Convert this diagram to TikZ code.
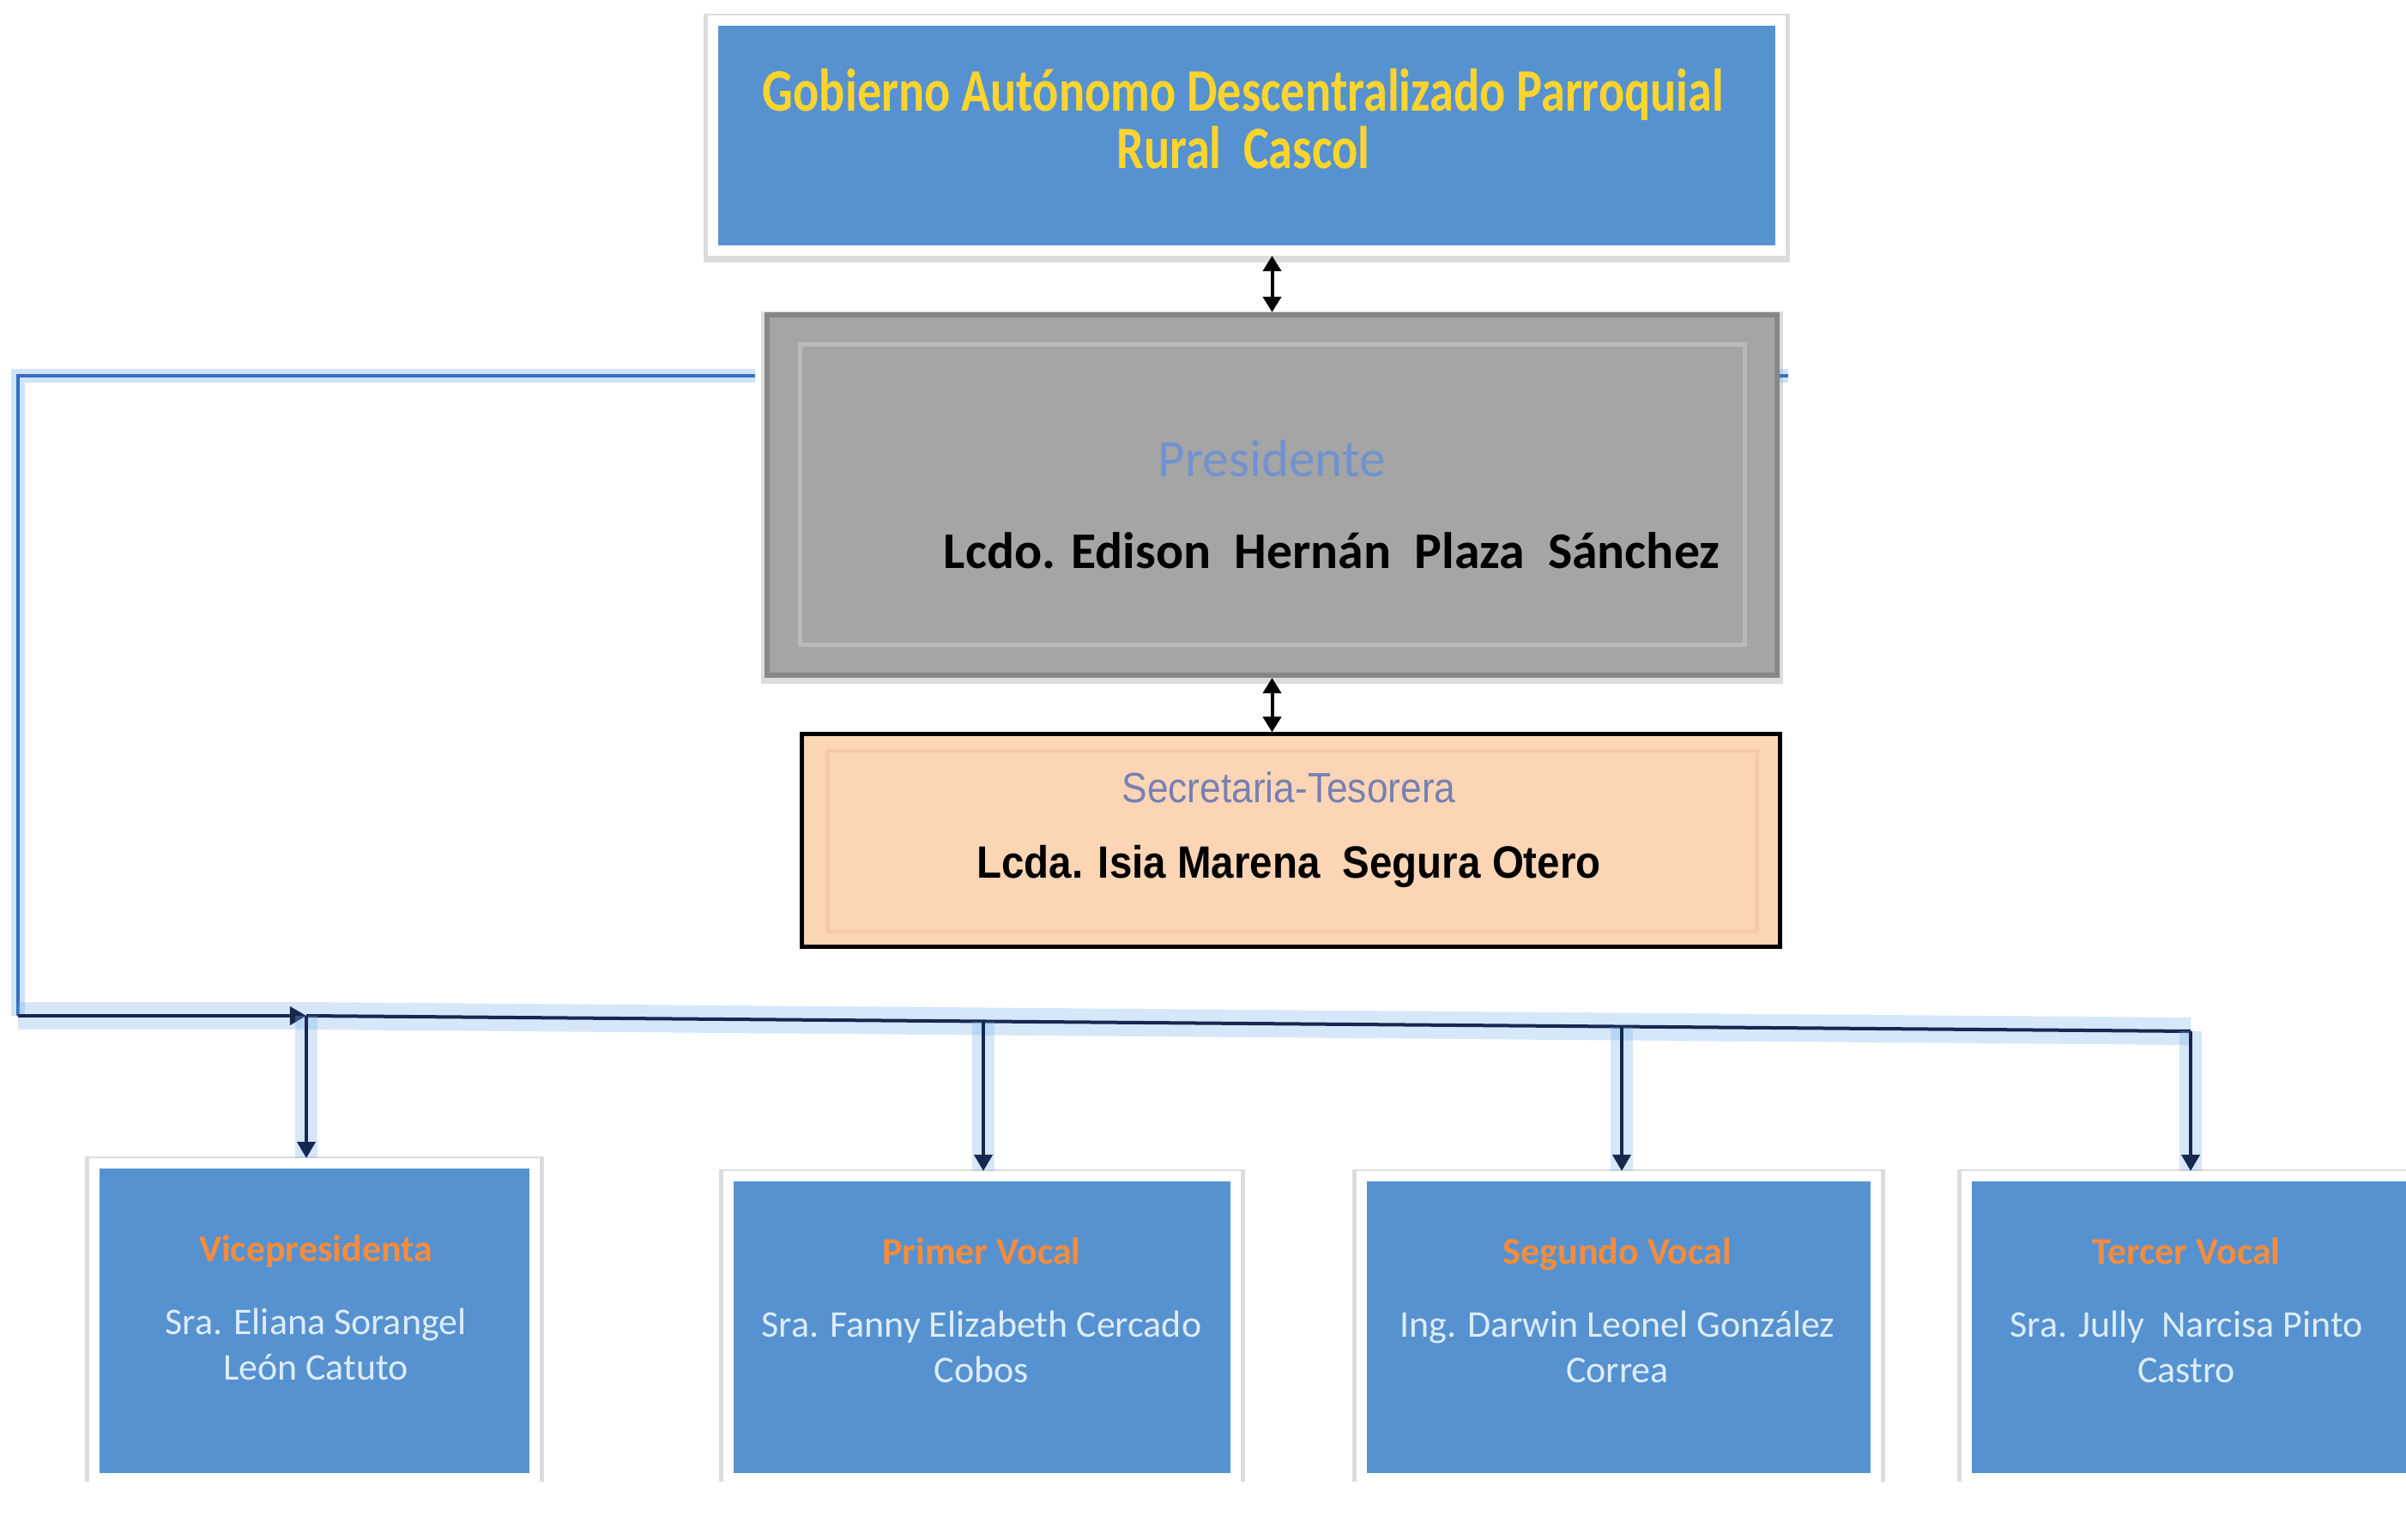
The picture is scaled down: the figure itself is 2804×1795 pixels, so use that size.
\documentclass[tikz,border=0pt]{standalone}
\usepackage{fontspec}
\setmainfont{Carlito}
\newfontfamily\headfont[FakeStretch=0.8]{Carlito}
\newfontfamily\arialfont[FakeStretch=0.9]{Liberation Sans}
\usepackage{tikz}
\usetikzlibrary{calc,positioning,arrows.meta,shadows}

\definecolor{gadblue}{RGB}{86,146,208}
\definecolor{gadyellow}{RGB}{255,212,45}
\definecolor{roleorange}{RGB}{247,140,60}
\definecolor{namelight}{RGB}{222,236,250}
\definecolor{presgray}{RGB}{165,165,165}
\definecolor{presedge}{RGB}{135,135,135}
\definecolor{presbevel}{RGB}{186,186,186}
\definecolor{presblue}{RGB}{112,146,208}
\definecolor{secpeach}{RGB}{252,213,181}
\definecolor{secbevel}{RGB}{243,203,172}
\definecolor{secgray}{RGB}{118,128,178}
\definecolor{linkblue}{RGB}{52,112,190}
\definecolor{linknavy}{RGB}{22,40,80}
\definecolor{glowblue}{RGB}{120,175,235}

\tikzset{
	bluebox/.style={rectangle, inner sep=0pt, fill=gadblue, draw=white, line width=1.2mm,
		general shadow={draw=black!30, fill=black!30, line width=2.1mm, shadow yshift=-0.3mm, opacity=0.45}},
	presbox/.style={rectangle, inner sep=0pt, fill=presgray, draw=presedge, line width=0.6mm,
		general shadow={draw=black!30, fill=black!30, line width=1.4mm, shadow yshift=-0.3mm, opacity=0.45}},
	secbox/.style={rectangle, inner sep=0pt, fill=secpeach, draw=black, line width=0.5mm},
	bevel/.style={rectangle, inner sep=0pt, line width=0.5mm},
	headtext/.style={text=gadyellow, align=center, anchor=base,
		font=\headfont\bfseries\fontsize{20}{19.3}\selectfont},
	roletext/.style={text=roleorange, anchor=base, font=\bfseries\fontsize{12.5}{15}\selectfont},
	nametext/.style={text=namelight, align=center, anchor=base, font=\fontsize{12.5}{15}\selectfont},
	tip/.style={-{Triangle[length=1.9mm, width=2.1mm]}},
	linkleft/.style={draw=linkblue, line width=0.4mm,
		preaction={-, draw=glowblue, line width=1.6mm, opacity=0.35}},
	linkbus/.style={draw=linknavy, line width=0.4mm,
		preaction={-, draw=glowblue, line width=3.2mm, opacity=0.3}},
	linkdown/.style={draw=linknavy, line width=0.4mm, tip,
		preaction={-, draw=glowblue, line width=2.6mm, opacity=0.3}},
	dblarrow/.style={draw=black, line width=0.4mm,
		{Triangle[length=1.8mm, width=2.1mm]}-{Triangle[length=1.8mm, width=2.1mm]}}
}

\begin{document}
\begin{tikzpicture}[x=0.01cm, y=-0.01cm]
	\useasboundingbox (0,0) rectangle (2804,1795);

	% upper boxes
	\node[bluebox, minimum width=12.44cm, minimum height=2.68cm] (gad) at (1453,158) {};
	\node[presbox, minimum width=11.77cm, minimum height=4.20cm] (pres) at (1482.5,577) {};
	\node[bevel, draw=presbevel, minimum width=11.0cm, minimum height=3.49cm] (presin) at (1483,576.5) {};
	\node[secbox, minimum width=11.39cm, minimum height=2.47cm] (sec) at (1504.5,979.5) {};
	\node[bevel, draw=secbevel, minimum width=10.82cm, minimum height=2.09cm] (secin) at (1506,980.5) {};

	\node[headtext] (gadtxt) at (1449,197) {Gobierno Autónomo Descentralizado Parroquial\\Rural\ \ Cascol};
	\node[anchor=base, text=presblue, font=\fontsize{17.4}{20}\selectfont] (prestxt) at (1482,556) {Presidente};
	\node[anchor=base, text=black, font=\bfseries\fontsize{17}{20}\selectfont] (presname) at (1552,663)
		{Lcdo. Edison\ \ Hernán\ \ Plaza\ \ Sánchez};
	\node[anchor=base, text=secgray, font=\arialfont\fontsize{14}{16}\selectfont] (sectxt) at (1502,935) {Secretaria-Tesorera};
	\node[anchor=base, text=black, font=\arialfont\bfseries\fontsize{15}{17}\selectfont] (secname) at (1502,1023)
		{Lcda. Isia Marena\ \ Segura Otero};

	% lower boxes (cut at the bottom)
	\begin{scope}
		\clip (0,0) rectangle (2804,1726);
		\node[bluebox, minimum width=5.13cm, minimum height=3.67cm] (vice) at (366.5,1539.5) {};
		\node[bluebox, minimum width=5.91cm, minimum height=3.52cm] (vocal1) at (1144.5,1547) {};
		\node[bluebox, minimum width=5.99cm, minimum height=3.52cm] (vocal2) at (1886.5,1547) {};
		\node[bluebox, minimum width=5.32cm, minimum height=3.52cm] (vocal3) at (2558,1547) {};
	\end{scope}

	\node[roletext] (vicetxt) at (368,1470) {Vicepresidenta};
	\node[nametext] (vicename) at (368,1608) {Sra. Eliana Sorangel\\León Catuto};
	\node[roletext] (vocal1txt) at (1144,1473) {Primer Vocal};
	\node[nametext] (vocal1name) at (1144,1611) {Sra. Fanny Elizabeth Cercado\\Cobos};
	\node[roletext] (vocal2txt) at (1885,1473) {Segundo Vocal};
	\node[nametext] (vocal2name) at (1885,1611) {Ing. Darwin Leonel González\\Correa};
	\node[roletext] (vocal3txt) at (2548,1473) {Tercer Vocal};
	\node[nametext] (vocal3name) at (2548,1611) {Sra. Jully\ \ Narcisa Pinto\\Castro};

	% connectors
	\coordinate (presL) at (880,438);
	\coordinate (presR) at (2084,438);
	\coordinate (cornerTop) at (21,438);
	\coordinate (cornerBot) at (21,1184);
	\coordinate (bus1) at (357,1184);
	\coordinate (bus2) at (1146,1190.5);
	\coordinate (bus3) at (1890,1196.6);
	\coordinate (bus4) at (2553,1202);

	\draw[dblarrow] (gad.south -| pres.north) -- (pres.north);
	\draw[dblarrow] (pres.south) -- (pres.south |- sec.north);
	\draw[linkleft] (presL) -- (cornerTop) -- (cornerBot);
	\draw[linkleft] (pres.east |- presR) -- (presR);
	\draw[linkbus, tip] (cornerBot) -- (bus1);
	\draw[linkbus] (bus1) -- (bus4);
	\draw[linkdown] (bus1) -- (bus1 |- vice.north);
	\draw[linkdown] (bus2) -- (bus2 |- vocal1.north);
	\draw[linkdown] (bus3) -- (bus3 |- vocal2.north);
	\draw[linkdown] (bus4) -- (bus4 |- vocal3.north);
\end{tikzpicture}
\end{document}
